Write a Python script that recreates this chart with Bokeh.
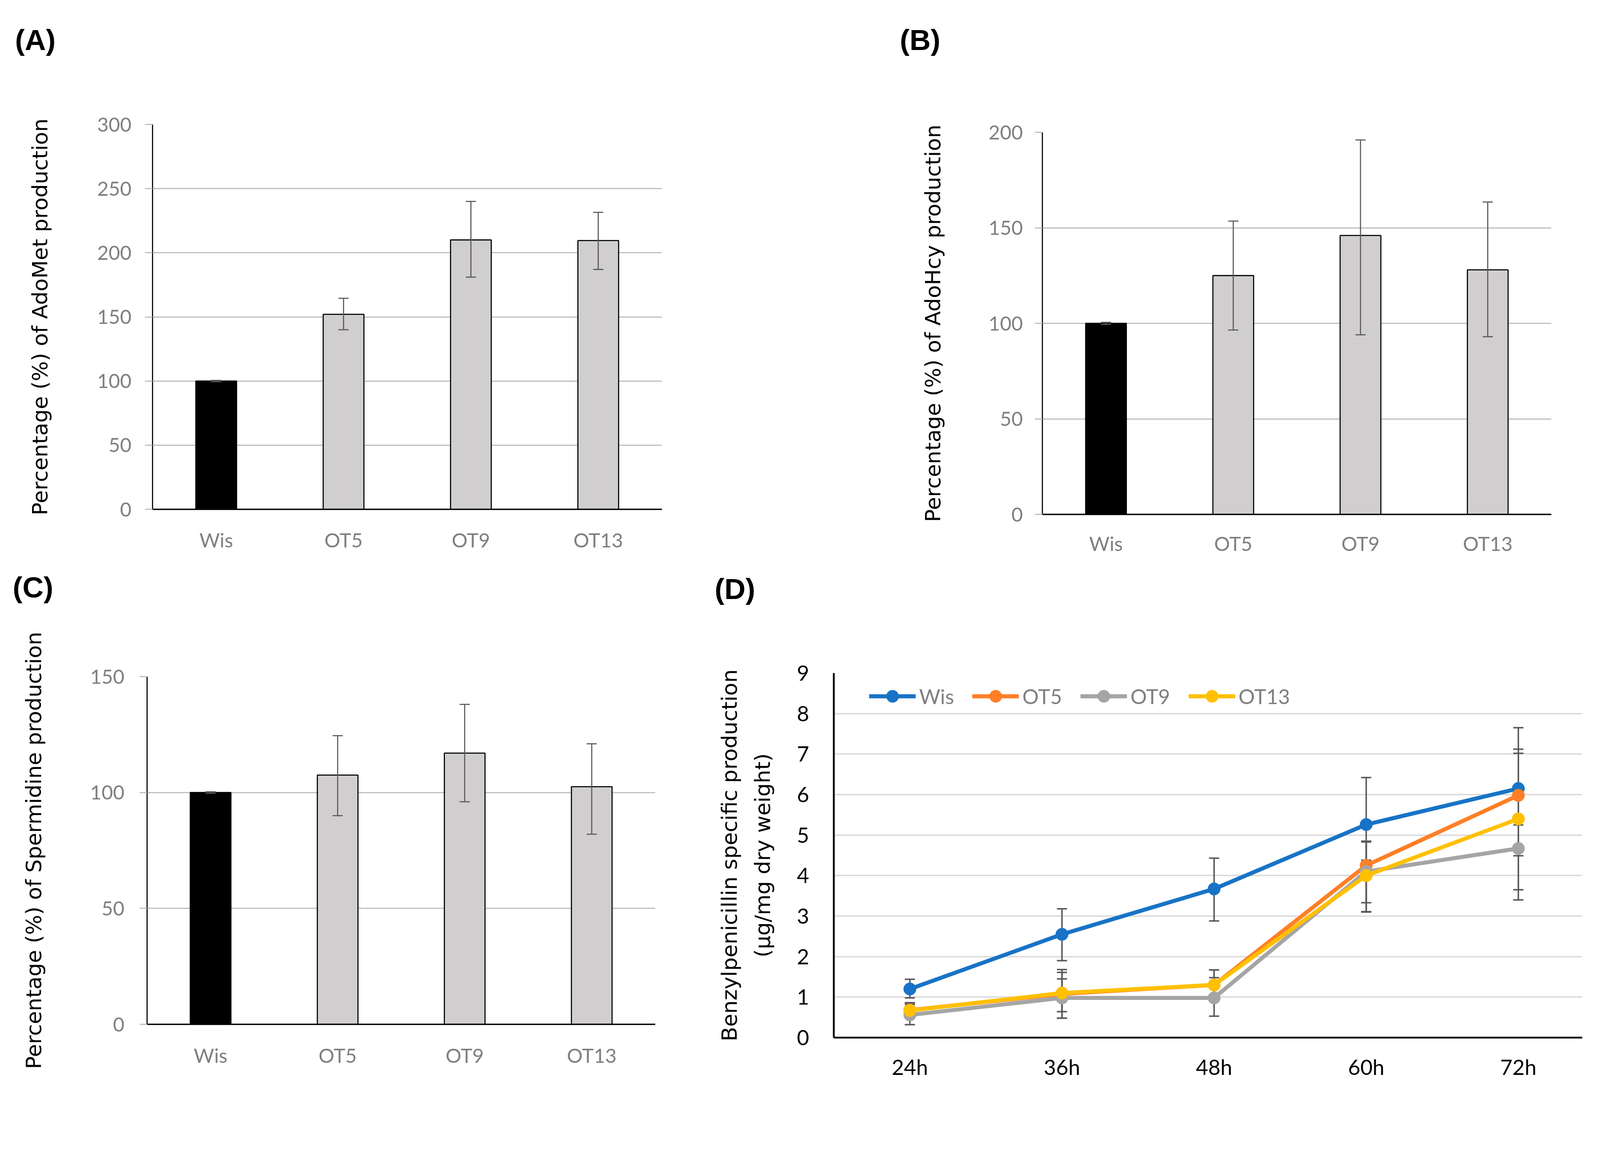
from bokeh.plotting import figure
from bokeh.models import (ColumnDataSource, Whisker, TeeHead, FactorRange, Range1d,
                          FixedTicker, Legend, LegendItem, Title, Spacer)
from bokeh.layouts import column, row
from bokeh.embed import file_html
from bokeh.resources import INLINE

# ---------------- data ----------------
strains = ["Wis", "OT5", "OT9", "OT13"]

adomet = [100, 152, 210, 209.5]
adomet_hi = [100.5, 164.5, 240, 231.5]
adomet_lo = [99.5, 140, 181, 187]

adohcy = [100, 125, 146, 128]
adohcy_hi = [100.5, 153.5, 196, 163.5]
adohcy_lo = [99.5, 96.5, 94, 93]

spermidine = [100, 107.5, 117, 102.5]
spermidine_hi = [100.3, 124.5, 138, 121]
spermidine_lo = [99.7, 90, 96, 82]

times = ["24h", "36h", "48h", "60h", "72h"]
pen_wis = [1.20, 2.55, 3.67, 5.26, 6.15]
pen_ot5 = [0.68, 1.08, 1.30, 4.25, 5.98]
pen_ot9 = [0.56, 0.98, 0.98, 4.10, 4.67]
pen_ot13 = [0.67, 1.10, 1.30, 4.00, 5.40]
pen_wis_hi = [1.44, 3.18, 4.43, 6.42, 7.65]
pen_wis_lo = [0.98, 1.90, 2.88, 4.10, 4.49]
pen_ot5_hi = [0.86, 1.68, 1.67, 4.83, 7.02]
pen_ot5_lo = [0.50, 0.48, 0.93, 3.11, 5.25]
pen_ot9_hi = [0.82, 1.45, 1.48, 4.38, 5.94]
pen_ot9_lo = [0.32, 0.48, 0.53, 3.33, 3.40]
pen_ot13_hi = [0.86, 1.61, 1.67, 4.85, 7.12]
pen_ot13_lo = [0.50, 0.64, 0.95, 3.10, 3.65]

# ---------------- styling ----------------
S = 0.935  # page-to-photo scale compensation


def px(v):
    return int(round(v * S))


def fs(v):
    return f"{v * S:.1f}px"


TICK_GRAY = "#7F7F7F"
TITLE_FONT = "DejaVu Sans"
TICK_FONT = "Lato"


def panel_tag(p, text, dx, gap):
    # spacer title (closest to the frame) pushes the tag title upwards
    p.add_layout(Title(text=" ", text_font_size="1px", standoff=px(gap - 55)), "above")
    p.title.text = text
    p.title.text_font = "Liberation Sans"
    p.title.text_font_style = "bold"
    p.title.text_font_size = fs(80)
    p.title.text_color = "black"
    p.title.align = "left"
    p.title.offset = px(dx)
    p.title.standoff = 0


def bar_panel(w, h, borders, ymax, vals, hi, lo, ylabel, tag, tag_dx, tag_gap,
              tick_standoff, title_standoff, xlabel_standoff):
    bl, br, bt, bb = borders
    p = figure(width=px(w), height=px(h), x_range=FactorRange(factors=strains),
               y_range=Range1d(0, ymax), output_backend="svg", toolbar_location=None,
               min_border_left=px(bl), min_border_right=px(br), min_border_top=px(bt),
               min_border_bottom=px(bb))
    p.vbar(x=strains, top=vals, width=0.32,
           fill_color=["black", "#D0CECE", "#D0CECE", "#D0CECE"],
           line_color="black", line_width=3 * S)
    src = ColumnDataSource(dict(x=strains, upper=hi, lower=lo))
    p.add_layout(Whisker(base="x", upper="upper", lower="lower", source=src,
                         line_color="#595959", line_width=3 * S, level="annotation",
                         upper_head=TeeHead(size=px(28), line_color="#595959", line_width=3 * S),
                         lower_head=TeeHead(size=px(28), line_color="#595959", line_width=3 * S)))
    ticks = list(range(0, ymax + 1, 50))
    p.yaxis.ticker = FixedTicker(ticks=ticks)
    p.ygrid.ticker = FixedTicker(ticks=ticks)
    p.xgrid.grid_line_color = None
    p.ygrid.grid_line_color = "#BFBFBF"
    p.ygrid.grid_line_width = 3 * S
    p.outline_line_color = None
    for ax in (p.xaxis, p.yaxis):
        ax.major_label_text_font = TICK_FONT
        ax.major_label_text_font_size = fs(54)
        ax.major_label_text_color = TICK_GRAY
        ax.minor_tick_line_color = None
        ax.axis_line_color = "black"
    p.yaxis.axis_line_width = 3 * S
    p.xaxis.axis_line_width = 4 * S
    p.yaxis.major_tick_in = 0
    p.yaxis.major_tick_out = px(20)
    p.yaxis.major_tick_line_color = "#BFBFBF"
    p.yaxis.major_tick_line_width = 3 * S
    p.yaxis.major_label_standoff = px(tick_standoff)
    p.xaxis.major_tick_line_color = None
    p.xaxis.major_label_standoff = px(xlabel_standoff)
    p.yaxis.axis_label = ylabel
    p.yaxis.axis_label_text_font = TITLE_FONT
    p.yaxis.axis_label_text_font_size = fs(58)
    p.yaxis.axis_label_text_font_style = "normal"
    p.yaxis.axis_label_text_color = "black"
    p.yaxis.axis_label_standoff = px(title_standoff)
    panel_tag(p, tag, tag_dx, tag_gap)
    return p


# row 1: equal top/bottom borders, B shifted down by a spacer
pA = bar_panel(2142, 1519, (417, 331, 333, 133), 300, adomet, adomet_hi, adomet_lo,
               "Percentage (%) of AdoMet production", "(A)", -376, 239, 37, 120, 44)
pB = bar_panel(2222, 1511, (711, 118, 333, 133), 200, adohcy, adohcy_hi, adohcy_lo,
               "Percentage (%) of AdoHcy production", "(B)", -390, 260, 33, 115, 40)
# row 2: equal top/bottom borders, C shifted down by a spacer
pC = bar_panel(1892, 1403, (402, 98, 302, 150), 150, spermidine, spermidine_hi, spermidine_lo,
               "Percentage (%) of Spermidine production", "(C)", -368, 252, 42, 118, 45)

# ---------------- panel D ----------------
pD = figure(width=px(2472), height=px(1449), x_range=Range1d(-0.5, 4.42), y_range=Range1d(0, 9),
            output_backend="svg", toolbar_location=None,
            min_border_left=px(390), min_border_right=px(32), min_border_top=px(302),
            min_border_bottom=px(150))
xs = list(range(len(times)))
series = [("Wis", pen_wis, pen_wis_hi, pen_wis_lo, "#1873C6"),
          ("OT5", pen_ot5, pen_ot5_hi, pen_ot5_lo, "#FF7F27"),
          ("OT9", pen_ot9, pen_ot9_hi, pen_ot9_lo, "#A5A5A5"),
          ("OT13", pen_ot13, pen_ot13_hi, pen_ot13_lo, "#FFC000")]
items = []
for name, vals, hi, lo, col in series:
    src = ColumnDataSource(dict(x=xs, upper=hi, lower=lo))
    pD.add_layout(Whisker(base="x", upper="upper", lower="lower", source=src,
                          line_color="#595959", line_width=4 * S, level="underlay",
                          upper_head=TeeHead(size=px(28), line_color="#595959", line_width=4 * S),
                          lower_head=TeeHead(size=px(28), line_color="#595959", line_width=4 * S)))
for name, vals, hi, lo, col in series:
    rl = pD.line(xs, vals, line_color=col, line_width=11 * S, line_join="round", line_cap="round")
    rs = pD.scatter(xs, vals, size=px(34), fill_color=col, line_color=col, marker="circle")
    items.append(LegendItem(label=name, renderers=[rl, rs]))

legend = Legend(items=items, orientation="horizontal", location=(px(97), px(892)),
                label_text_font=TICK_FONT, label_text_font_size=fs(56),
                label_text_color=TICK_GRAY, glyph_width=px(127), glyph_height=px(85),
                label_height=px(85), spacing=px(50), label_standoff=px(10), padding=0, margin=0,
                border_line_color=None, background_fill_alpha=0)
pD.add_layout(legend)

pD.xaxis.ticker = FixedTicker(ticks=xs)
pD.xaxis.major_label_overrides = {i: t for i, t in enumerate(times)}
pD.yaxis.ticker = FixedTicker(ticks=list(range(0, 10)))
pD.ygrid.ticker = FixedTicker(ticks=list(range(0, 10)))
pD.xgrid.grid_line_color = None
pD.ygrid.grid_line_color = "#D9D9D9"
pD.ygrid.grid_line_width = 4 * S
pD.outline_line_color = None
for ax in (pD.xaxis, pD.yaxis):
    ax.major_label_text_font = TICK_FONT
    ax.major_label_text_font_size = fs(58)
    ax.major_label_text_color = "black"
    ax.minor_tick_line_color = None
    ax.major_tick_line_color = None
    ax.axis_line_color = "black"
    ax.axis_line_width = 5 * S
pD.yaxis.major_label_standoff = px(61)
pD.xaxis.major_label_standoff = px(38)
pD.yaxis.axis_label = "Benzylpenicillin specific production\n(\u00b5g/mg dry weight)"
pD.yaxis.axis_label_text_font = TITLE_FONT
pD.yaxis.axis_label_text_font_size = fs(58)
pD.yaxis.axis_label_text_font_style = "normal"
pD.yaxis.axis_label_text_color = "black"
pD.yaxis.axis_label_text_line_height = 1.35
pD.yaxis.axis_label_standoff = px(57)
panel_tag(pD, "(D)", -326, 238)

row1 = row(column(pA), column(Spacer(width=px(2222), height=px(21)), pB))
row2 = row(column(Spacer(width=px(1892), height=px(10)), pC), column(pD))
layout = column(Spacer(width=px(4364), height=px(7)), row1, row2)
open("out.html", "w").write(file_html(layout, INLINE))
